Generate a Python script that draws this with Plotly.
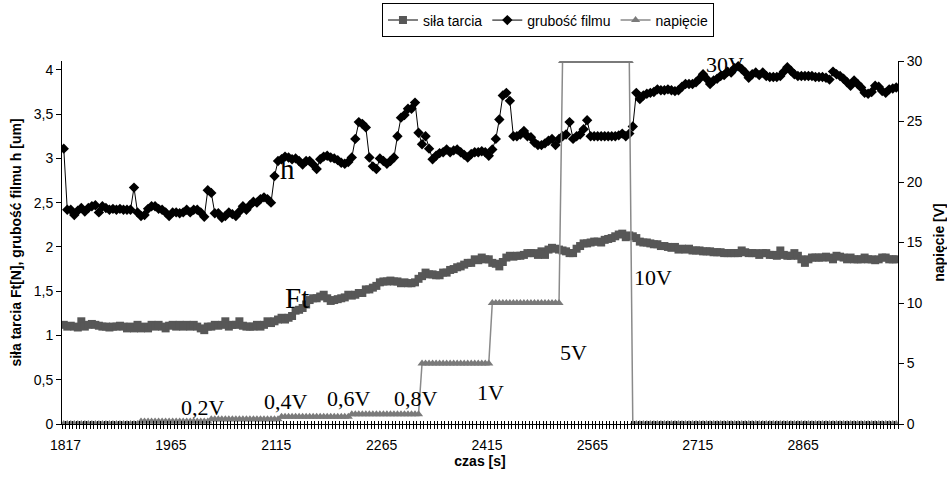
import plotly.graph_objects as go

# categories: measurement times [s]
times = [1817] + list(range(1820, 3001, 5))
tick_labels = ["1817", "1965", "2115", "2265", "2415", "2565", "2715", "2865"]

# siła tarcia Ft [N]
sila_tarcia = [
    1.12, 1.10, 1.11, 1.10, 1.09, 1.16, 1.10, 1.12, 1.13, 1.12,
    1.11, 1.10, 1.10, 1.09, 1.10, 1.10, 1.11, 1.10, 1.08, 1.10,
    1.08, 1.12, 1.08, 1.10, 1.08, 1.12, 1.10, 1.12, 1.10, 1.08,
    1.11, 1.12, 1.10, 1.12, 1.10, 1.12, 1.10, 1.12, 1.10, 1.08,
    1.06, 1.10, 1.10, 1.12, 1.11, 1.12, 1.16, 1.10, 1.12, 1.12,
    1.16, 1.11, 1.10, 1.10, 1.10, 1.12, 1.10, 1.12, 1.16, 1.14,
    1.16, 1.18, 1.20, 1.18, 1.20, 1.22, 1.28, 1.29, 1.31, 1.35,
    1.40, 1.42, 1.42, 1.44, 1.46, 1.42, 1.39, 1.40, 1.41, 1.42,
    1.43, 1.46, 1.45, 1.46, 1.48, 1.48, 1.52, 1.52, 1.54, 1.56,
    1.60, 1.61, 1.61, 1.62, 1.61, 1.61, 1.59, 1.60, 1.59, 1.59,
    1.60, 1.64, 1.67, 1.71, 1.69, 1.69, 1.68, 1.68, 1.71, 1.71,
    1.74, 1.75, 1.77, 1.78, 1.80, 1.82, 1.82, 1.86, 1.85, 1.88,
    1.86, 1.86, 1.82, 1.81, 1.78, 1.83, 1.88, 1.90, 1.89, 1.90,
    1.90, 1.91, 1.93, 1.93, 1.93, 1.91, 1.95, 1.91, 1.97, 1.99,
    1.98, 1.97, 1.96, 1.95, 1.93, 1.93, 1.98, 2.01, 2.04, 2.04,
    2.05, 2.06, 2.06, 2.05, 2.08, 2.09, 2.10, 2.12, 2.14, 2.15,
    2.11, 2.13, 2.12, 2.10, 2.06, 2.05, 2.05, 2.04, 2.03, 2.03,
    2.01, 2.01, 2.00, 1.99, 2.00, 1.97, 1.98, 1.97, 1.98, 1.96,
    1.96, 1.96, 1.95, 1.95, 1.95, 1.94, 1.94, 1.94, 1.93, 1.93,
    1.93, 1.93, 1.93, 1.96, 1.94, 1.93, 1.93, 1.93, 1.91, 1.93,
    1.93, 1.91, 1.91, 1.90, 1.96, 1.91, 1.90, 1.90, 1.93, 1.90,
    1.86, 1.82, 1.86, 1.88, 1.88, 1.88, 1.88, 1.89, 1.88, 1.86,
    1.90, 1.89, 1.88, 1.86, 1.88, 1.86, 1.86, 1.86, 1.88, 1.86,
    1.86, 1.85, 1.86, 1.88, 1.88, 1.86, 1.86, 1.86,
]

# grubość filmu h [um]
grubosc_filmu = [
    3.11, 2.42, 2.42, 2.36, 2.41, 2.44, 2.40, 2.44, 2.46, 2.47,
    2.39, 2.46, 2.44, 2.42, 2.43, 2.42, 2.43, 2.42, 2.42, 2.42,
    2.67, 2.39, 2.35, 2.36, 2.43, 2.46, 2.46, 2.43, 2.42, 2.39,
    2.35, 2.39, 2.39, 2.38, 2.39, 2.42, 2.39, 2.42, 2.42, 2.39,
    2.34, 2.64, 2.61, 2.38, 2.38, 2.33, 2.35, 2.39, 2.37, 2.35,
    2.40, 2.46, 2.42, 2.47, 2.51, 2.50, 2.54, 2.56, 2.54, 2.50,
    2.80, 2.97, 2.99, 3.02, 3.01, 2.99, 3.00, 2.97, 2.93, 2.97,
    2.97, 2.93, 2.88, 2.99, 3.02, 3.03, 3.01, 3.00, 2.98, 2.95,
    2.94, 2.96, 3.01, 3.22, 3.41, 3.39, 3.35, 3.01, 2.91, 2.88,
    3.00, 2.97, 2.94, 2.97, 3.01, 3.25, 3.46, 3.49, 3.56, 3.56,
    3.63, 3.29, 3.16, 3.25, 3.11, 2.99, 3.03, 3.06, 3.07, 3.10,
    3.07, 3.09, 3.10, 3.07, 3.04, 3.01, 3.05, 3.07, 3.07, 3.08,
    3.07, 3.03, 3.10, 3.22, 3.44, 3.71, 3.74, 3.65, 3.25, 3.25,
    3.27, 3.31, 3.25, 3.24, 3.18, 3.15, 3.15, 3.17, 3.20, 3.22,
    3.15, 3.22, 3.25, 3.27, 3.41, 3.22, 3.25, 3.27, 3.33, 3.43,
    3.25, 3.25, 3.25, 3.25, 3.25, 3.25, 3.25, 3.25, 3.26, 3.28,
    3.25, 3.28, 3.36, 3.74, 3.67, 3.71, 3.73, 3.74, 3.75, 3.78,
    3.77, 3.77, 3.78, 3.77, 3.76, 3.77, 3.81, 3.84, 3.84, 3.84,
    3.86, 3.90, 3.95, 3.90, 3.84, 3.88, 3.90, 3.93, 3.94, 3.98,
    3.97, 4.02, 4.04, 4.01, 3.97, 3.91, 3.95, 3.97, 3.94, 3.97,
    3.93, 3.92, 3.92, 3.92, 3.93, 3.98, 4.03, 3.99, 3.95, 3.93,
    3.93, 3.93, 3.93, 3.93, 3.92, 3.92, 3.92, 3.91, 3.89, 3.98,
    3.95, 3.93, 3.90, 3.86, 3.82, 3.88, 3.84, 3.80, 3.74, 3.73,
    3.75, 3.82, 3.81, 3.76, 3.74, 3.78, 3.79, 3.80,
]

# napięcie [V]
napiecie = [
    0, 0, 0, 0, 0, 0, 0, 0, 0, 0, 0, 0, 0, 0, 0, 0, 0, 0, 0, 0, 0, 0,
    0.2, 0.2, 0.2, 0.2, 0.2, 0.2, 0.2, 0.2, 0.2, 0.2,
    0.2, 0.2, 0.2, 0.2, 0.2, 0.2, 0.2, 0.2, 0.2, 0.2,
    0.4, 0.4, 0.4, 0.4, 0.4, 0.4, 0.4, 0.4, 0.4, 0.4,
    0.4, 0.4, 0.4, 0.4, 0.4, 0.4, 0.4, 0.4, 0.4, 0.4,
    0.6, 0.6, 0.6, 0.6, 0.6, 0.6, 0.6, 0.6, 0.6, 0.6,
    0.6, 0.6, 0.6, 0.6, 0.6, 0.6, 0.6, 0.6, 0.6, 0.6,
    0.8, 0.8, 0.8, 0.8, 0.8, 0.8, 0.8, 0.8, 0.8, 0.8,
    0.8, 0.8, 0.8, 0.8, 0.8, 0.8, 0.8, 0.8, 0.8, 0.8,
    5, 5, 5, 5, 5, 5, 5, 5, 5, 5, 5, 5, 5, 5, 5, 5, 5, 5, 5, 5,
    10, 10, 10, 10, 10, 10, 10, 10, 10, 10, 10, 10, 10, 10, 10, 10, 10, 10, 10, 10,
    30, 30, 30, 30, 30, 30, 30, 30, 30, 30, 30, 30, 30, 30, 30, 30, 30, 30, 30, 30,
    0, 0, 0, 0, 0, 0, 0, 0, 0, 0, 0, 0, 0, 0, 0, 0, 0, 0, 0, 0,
    0, 0, 0, 0, 0, 0, 0, 0, 0, 0, 0, 0, 0, 0, 0, 0, 0, 0, 0, 0,
    0, 0, 0, 0, 0, 0, 0, 0, 0, 0, 0, 0, 0, 0, 0, 0, 0, 0, 0, 0,
    0, 0, 0, 0, 0, 0, 0, 0, 0, 0, 0, 0, 0, 0, 0, 0,
]

left_ticks = [0, 0.5, 1, 1.5, 2, 2.5, 3, 3.5, 4]
left_ticktext = ["0", "0,5", "1", "1,5", "2", "2,5", "3", "3,5", "4"]
right_ticks = [0, 5, 10, 15, 20, 25, 30]

n = len(times)
xpos = list(range(n))
boundaries = [k + 0.5 for k in range(-1, n)]
label_at = {times.index(int(t)) + 0.5: t for t in tick_labels}
boundary_text = [label_at.get(b, "") for b in boundaries]

FONT = "Liberation Sans, Arial, sans-serif"
SERIF = "Liberation Serif, Times New Roman, serif"

fig = go.Figure()
fig.add_trace(go.Scatter(
    x=xpos, y=sila_tarcia, name="siła tarcia", mode="lines+markers",
    line=dict(color="#575757", width=1.5),
    marker=dict(symbol="square", size=8, color="#575757"),
))
fig.add_trace(go.Scatter(
    x=xpos, y=grubosc_filmu, name="grubość filmu", mode="lines+markers",
    line=dict(color="#000000", width=1),
    marker=dict(symbol="diamond", size=8, color="#000000"),
))
fig.add_trace(go.Scatter(
    x=xpos, y=napiecie, name="napięcie", mode="lines+markers",
    xaxis="x2", yaxis="y2",
    line=dict(color="#8a8a8a", width=1.5),
    marker=dict(symbol="triangle-up", size=8, color="#7a7a7a"),
))

xr = [-0.5, n - 0.5]
fig.update_layout(
    width=947, height=478,
    margin=dict(l=62, r=49, t=61, b=54, autoexpand=False),
    paper_bgcolor="white", plot_bgcolor="white",
    font=dict(family=FONT, size=14, color="black"),
    showlegend=True,
    legend=dict(
        orientation="h", x=0.5813, y=1.1116, xanchor="center", yanchor="middle",
        bordercolor="black", borderwidth=1, bgcolor="white",
        font=dict(family=FONT, size=14), itemwidth=30,
    ),
    xaxis=dict(
        range=xr, tickmode="array", tickvals=boundaries, ticktext=boundary_text,
        ticks="outside", ticklen=4, tickwidth=1, tickcolor="black",
        showline=True, linecolor="black", linewidth=1, showgrid=False, zeroline=False,
        tickfont=dict(family=FONT, size=14), ticklabelstandoff=4, automargin=False,
        title=dict(text="<b>czas [s]</b>", font=dict(family=FONT, size=14), standoff=3),
    ),
    xaxis2=dict(
        range=xr, overlaying="x", anchor="y2", side="bottom",
        tickmode="array", tickvals=boundaries, showticklabels=False,
        ticks="inside", ticklen=3, tickwidth=1, tickcolor="black", automargin=False,
        showline=False, showgrid=False, zeroline=False,
    ),
    yaxis=dict(
        range=[0, 4.1], tickmode="array", tickvals=left_ticks, ticktext=left_ticktext,
        ticks="outside", ticklen=5, tickcolor="black", automargin=False,
        showline=True, linecolor="black", linewidth=1, showgrid=False, zeroline=False,
        tickfont=dict(family=FONT, size=14),
        title=dict(text="<b>siła tarcia Ft[N], grubość filmu h [um]</b>",
                   font=dict(family=FONT, size=14), standoff=8),
    ),
    yaxis2=dict(
        range=[0, 30], overlaying="y", side="right", anchor="x2",
        tickmode="array", tickvals=right_ticks, automargin=False,
        ticks="outside", ticklen=5, tickcolor="black",
        showline=True, linecolor="black", linewidth=1, showgrid=False, zeroline=False,
        tickfont=dict(family=FONT, size=14),
        title=dict(text="<b>napięcie [V]</b>", font=dict(family=FONT, size=14), standoff=12),
    ),
)

big = dict(family=SERIF, size=29, color="black")
small = dict(family=SERIF, size=22, color="black")
notes = [
    ("h", 63.8, 2.877, big),
    ("Ft", 66.4, 1.427, big),
    ("0,2V", 39.6, 0.181, small),
    ("0,4V", 63.3, 0.249, small),
    ("0,6V", 81.2, 0.283, small),
    ("0,8V", 100.3, 0.283, small),
    ("1V", 121.6, 0.351, small),
    ("5V", 145.0, 0.804, small),
    ("10V", 167.7, 1.653, small),
    ("30V", 188.2, 4.066, small),
]
for text, ax_, ay_, f in notes:
    fig.add_annotation(text=text, x=ax_, y=ay_, xref="x", yref="y",
                       showarrow=False, font=f, xanchor="center", yanchor="middle")

fig.write_html("out.html")
